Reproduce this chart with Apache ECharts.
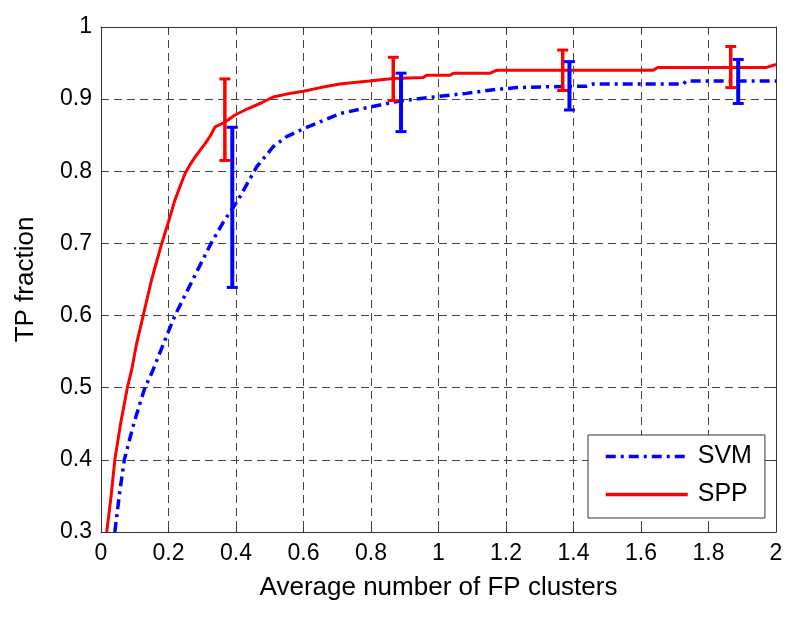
<!DOCTYPE html>
<html>
<head>
<meta charset="utf-8">
<script src="https://cdn.jsdelivr.net/npm/echarts@6/dist/echarts.min.js"></script>
<style>
html,body{margin:0;padding:0;background:#fff;}
#c{width:800px;height:618px;}
</style>
</head>
<body>
<div id="c"></div>
<script>
// ---- Data ----
const xTicks = [0, 0.2, 0.4, 0.6, 0.8, 1, 1.2, 1.4, 1.6, 1.8, 2];
const yTicks = [0.3, 0.4, 0.5, 0.6, 0.7, 0.8, 0.9, 1];

const svmX = [0.041,0.054,0.069,0.097,0.13,0.15,0.18,0.219,0.27,0.326,0.363,0.392,0.412,0.461,0.51,0.55,0.6,0.708,0.795,0.886,1.004,1.083,1.162,1.232,1.311,1.439,1.459,1.725,1.735,2.0];
const svmY = [0.30,0.35,0.40,0.45,0.50,0.52,0.555,0.60,0.648,0.70,0.73,0.75,0.765,0.806,0.834,0.848,0.859,0.880,0.889,0.8975,0.904,0.908,0.913,0.916,0.917,0.918,0.921,0.921,0.925,0.925];

const sppX = [0.017,0.03,0.041,0.058,0.078,0.091,0.105,0.125,0.15,0.18,0.20,0.219,0.235,0.249,0.265,0.279,0.295,0.308,0.325,0.338,0.367,0.397,0.436,0.476,0.51,0.55,0.6,0.65,0.708,0.75,0.795,0.866,0.955,0.965,1.034,1.044,1.153,1.172,1.636,1.65,1.972,2.0];
const sppY = [0.30,0.35,0.40,0.45,0.50,0.525,0.56,0.60,0.65,0.70,0.73,0.76,0.78,0.797,0.81,0.82,0.83,0.838,0.85,0.8615,0.868,0.878,0.887,0.895,0.903,0.907,0.911,0.916,0.921,0.923,0.925,0.9285,0.930,0.933,0.933,0.936,0.936,0.940,0.940,0.944,0.944,0.948];

const sppErrX = [0.367, 0.866, 1.368, 1.866];
const sppErrLow = [0.815, 0.898, 0.912, 0.916];
const sppErrHigh = [0.928, 0.958, 0.968, 0.973];

const svmErrX = [0.389, 0.889, 1.388, 1.888];
const svmErrLow = [0.639, 0.855, 0.885, 0.894];
const svmErrHigh = [0.861, 0.936, 0.952, 0.955];

const seriesNames = ['SVM', 'SPP'];
const xName = 'Average number of FP clusters';
const yName = 'TP fraction';

// ---- Build ----
const zip = (a, b) => a.map((v, i) => [v, b[i]]);
const zip3 = (a, b, c) => a.map((v, i) => [v, b[i], c[i]]);
const FONT = 'Liberation Sans, Arial, sans-serif';

function errRender(color, width) {
  return function (params, api) {
    const x = api.value(0), lo = api.value(1), hi = api.value(2);
    const pLo = api.coord([x, lo]);
    const pHi = api.coord([x, hi]);
    const hw = 5.5;
    return {
      type: 'group',
      children: [
        {type: 'line', shape: {x1: pLo[0], y1: pLo[1], x2: pHi[0], y2: pHi[1]}, style: {stroke: color, lineWidth: width}},
        {type: 'line', shape: {x1: pHi[0] - hw, y1: pHi[1], x2: pHi[0] + hw, y2: pHi[1]}, style: {stroke: color, lineWidth: 3}},
        {type: 'line', shape: {x1: pLo[0] - hw, y1: pLo[1], x2: pLo[0] + hw, y2: pLo[1]}, style: {stroke: color, lineWidth: 3}}
      ]
    };
  };
}

const axisCommon = {
  axisLine: {show: true, onZero: false, lineStyle: {color: '#333', width: 1}},
  axisTick: {show: true, inside: true, length: 5, lineStyle: {color: '#333'}}
};

const option = {
  backgroundColor: '#fff',
  animation: false,
  grid: {left: 101, top: 27, width: 675, height: 505, containLabel: false},
  legend: {
    data: seriesNames,
    orient: 'vertical',
    left: 588, top: 435,
    padding: [9, 13, 11, 16],
    itemWidth: 82, itemHeight: 14, itemGap: 13,
    backgroundColor: '#fff',
    borderColor: '#333', borderWidth: 1, borderRadius: 0,
    itemStyle: {opacity: 0},
    lineStyle: {width: 3.5},
    textStyle: {fontFamily: FONT, fontSize: 25, color: '#000', padding: [0, 0, 0, 5]}
  },
  xAxis: [
    Object.assign({
      type: 'value', min: xTicks[0], max: xTicks[xTicks.length - 1], interval: 0.2,
      position: 'bottom',
      name: xName, nameLocation: 'middle', nameGap: 43,
      nameTextStyle: {fontFamily: FONT, fontSize: 26, color: '#000'},
      axisLabel: {fontFamily: FONT, fontSize: 23, color: '#000', margin: 10},
      splitLine: {show: true, lineStyle: {color: '#444', width: 1, type: [8, 5]}}
    }, axisCommon),
    Object.assign({
      type: 'value', min: xTicks[0], max: xTicks[xTicks.length - 1], interval: 0.2,
      position: 'top', axisLabel: {show: false}, splitLine: {show: false}
    }, axisCommon)
  ],
  yAxis: [
    Object.assign({
      type: 'value', min: yTicks[0], max: yTicks[yTicks.length - 1], interval: 0.1,
      position: 'left',
      name: yName, nameLocation: 'middle', nameGap: 62, nameRotate: 90,
      nameTextStyle: {fontFamily: FONT, fontSize: 26, color: '#000'},
      axisLabel: {fontFamily: FONT, fontSize: 23, color: '#000', margin: 9},
      splitLine: {show: true, lineStyle: {color: '#444', width: 1, type: [8, 5]}}
    }, axisCommon),
    Object.assign({
      type: 'value', min: yTicks[0], max: yTicks[yTicks.length - 1], interval: 0.1,
      position: 'right', axisLabel: {show: false}, splitLine: {show: false}
    }, axisCommon)
  ],
  series: [
    {
      name: seriesNames[0], type: 'line', data: zip(svmX, svmY),
      showSymbol: false, symbol: 'none', clip: true,
      lineStyle: {color: '#0000ff', width: 3.5, type: [10, 5, 3, 5]},
      itemStyle: {color: '#0000ff'}, z: 2
    },
    {
      name: seriesNames[1], type: 'line', data: zip(sppX, sppY),
      showSymbol: false, symbol: 'none', clip: true,
      lineStyle: {color: '#ff0000', width: 3, type: 'solid'},
      itemStyle: {color: '#ff0000'}, z: 3
    },
    {
      name: 'SPP error', type: 'custom', data: zip3(sppErrX, sppErrLow, sppErrHigh),
      encode: {x: 0, y: [1, 2]}, renderItem: errRender('#ff0000', 3.5), z: 4
    },
    {
      name: 'SVM error', type: 'custom', data: zip3(svmErrX, svmErrLow, svmErrHigh),
      encode: {x: 0, y: [1, 2]}, renderItem: errRender('#0000ff', 4), z: 5
    }
  ]
};

const chart = echarts.init(document.getElementById('c'), null, {renderer: 'canvas'});
chart.setOption(option);
</script>
</body>
</html>
